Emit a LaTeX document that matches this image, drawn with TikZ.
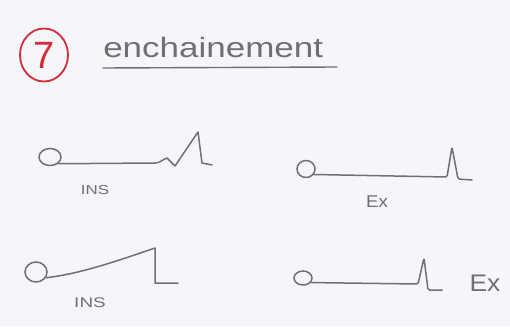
\documentclass[tikz,border=0pt]{standalone}
\usepackage{fontspec}
\setmainfont{Liberation Sans}
\usetikzlibrary{shapes.geometric}
\definecolor{bg}{RGB}{245,246,250}
\definecolor{pencil}{RGB}{112,112,112}
\definecolor{redink}{RGB}{212,42,58}
\begin{document}
\begin{tikzpicture}[x=1pt,y=-1pt,
  trace/.style={draw=pencil, line width=1.5pt, line cap=round, line join=round},
  port/.style={ellipse, draw=pencil, line width=1.5pt, inner sep=0pt},
  lbl/.style={text=pencil, inner sep=0pt}]
\fill[bg] (0,0) rectangle (510,326);
\useasboundingbox (0,0) rectangle (510,326);
% heading
\node[ellipse, draw=redink, line width=1.8pt, minimum width=48pt, minimum height=53pt,
      text=redink, font=\fontsize{38}{38}\selectfont, inner sep=0pt] (seven) at (44,55) {7};
\node[lbl, anchor=base west, xscale=1.25, font=\fontsize{28}{28}\selectfont] (title) at (103,58) {enchainement};
\coordinate (ulA) at (103,68);
\coordinate (ulB) at (337,67);
\draw[trace, line width=1.4pt] (ulA) -- (ulB);
% trace 1
\node[port, minimum width=22pt, minimum height=17pt] (p1) at (50,157) {};
\draw[trace] (p1.-40) -- (155,163) to[out=0,in=200] (167,158) -- (175,166) -- (198,132) -- (202,163) -- (212,165);
\node[lbl, xscale=1.3, font=\fontsize{13}{13}\selectfont] (ins1) at (95,190) {INS};
% trace 2
\node[port, minimum width=18pt, minimum height=17pt] (p2) at (306,169) {};
\draw[trace, rounded corners=1.5pt] (p2.-35) -- (447,177) -- (452,147) -- (458,179) -- (472,180);
\node[lbl, xscale=1.1, font=\fontsize{17}{17}\selectfont] (ex1) at (377,202) {Ex};
% trace 3
\node[port, minimum width=22pt, minimum height=20pt] (p3) at (36,272) {};
\draw[trace] (p3.-30) .. controls (80,274) and (120,260) .. (155,248) -- (155,283) -- (178,283);
\node[lbl, xscale=1.35, font=\fontsize{14}{14}\selectfont] (ins2) at (90,303) {INS};
% trace 4
\node[port, minimum width=18pt, minimum height=14pt] (p4) at (303,278) {};
\draw[trace, rounded corners=1.5pt] (p4.-30) -- (418,284) -- (424,258) -- (428,290) -- (442,290);
\node[lbl, xscale=1.1, font=\fontsize{24}{24}\selectfont] (ex2) at (485,283) {Ex};
\end{tikzpicture}
\end{document}
